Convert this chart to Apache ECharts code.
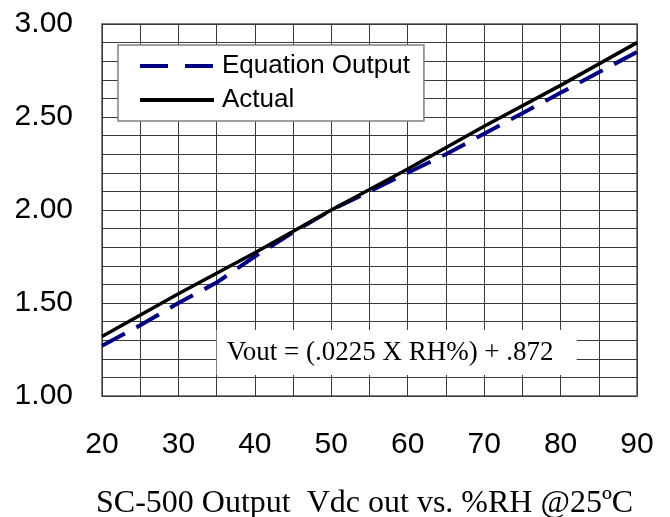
<!DOCTYPE html>
<html>
<head>
<meta charset="utf-8">
<script src="https://cdn.jsdelivr.net/npm/echarts@6/dist/echarts.min.js"></script>
<style>
html,body{margin:0;padding:0;background:#fff;}
#chart{width:670px;height:517px;}
</style>
</head>
<body>
<div id="chart"></div>
<script>
// %RH values
const rhValues = [20, 25, 30, 35, 40, 45, 50, 55, 60, 65, 70, 75, 80, 85, 90];
// Equation Output (dashed navy)
const equationOutput = [1.27, 1.38, 1.50, 1.61, 1.75, 1.88, 2.00, 2.10, 2.20, 2.30, 2.41, 2.52, 2.63, 2.74, 2.85];
// Actual (solid black)
const actualRH = [20, 30, 40, 50, 60, 70, 80, 90];
const actualValues = [1.32, 1.55, 1.77, 2.00, 2.22, 2.45, 2.67, 2.90];
const seriesNames = ['Equation Output', 'Actual'];
const titleText = 'SC-500 Output  Vdc out vs. %RH @25ºC';
const equationText = 'Vout = (.0225 X RH%) + .872';
// annotation box in data units [x1, y1, x2, y2]
const noteBox = [35, 1.355, 82.1, 1.113];

const chart = echarts.init(document.getElementById('chart'));
const gridLine = {show: true, lineStyle: {color: '#3a3a3a', width: 1}};
chart.setOption({
  animation: false,
  backgroundColor: '#ffffff',
  title: {
    text: titleText,
    left: 96,
    top: 488,
    padding: 0,
    textStyle: {fontFamily: 'Liberation Serif', fontSize: 32, fontWeight: 'normal', color: '#000'}
  },
  grid: {left: 102, right: 33, top: 24, bottom: 121, show: true, borderColor: '#808080', borderWidth: 2, backgroundColor: 'transparent'},
  legend: {
    orient: 'vertical',
    left: 118,
    top: 45,
    backgroundColor: '#fff',
    borderColor: '#808080',
    borderWidth: 1.5,
    padding: [8, 14, 8, 20],
    itemGap: 8,
    itemWidth: 74,
    itemHeight: 14,
    itemStyle: {color: 'transparent', borderWidth: 0, opacity: 0},
    data: [
      {name: seriesNames[0], lineStyle: {color: '#000080', width: 4, type: [28, 17], opacity: 1}},
      {name: seriesNames[1], lineStyle: {color: '#000', width: 4, type: 'solid', opacity: 1}}
    ],
    textStyle: {fontFamily: 'Liberation Sans', fontSize: 26, color: '#000', padding: [0, 0, 0, 3]}
  },
  xAxis: {
    type: 'value', min: 20, max: 90, interval: 10,
    axisLine: {show: false}, axisTick: {show: false},
    axisLabel: {margin: 34, fontFamily: 'Liberation Sans', fontSize: 30, color: '#000'},
    splitLine: gridLine,
    minorTick: {show: false, splitNumber: 2},
    minorSplitLine: gridLine
  },
  yAxis: {
    type: 'value', min: 1, max: 3, interval: 0.5,
    axisLine: {show: false}, axisTick: {show: false},
    axisLabel: {margin: 29, fontFamily: 'Liberation Sans', fontSize: 30, color: '#000', formatter: v => v.toFixed(2)},
    splitLine: gridLine,
    minorTick: {show: false, splitNumber: 5},
    minorSplitLine: gridLine
  },
  series: [
    {
      name: seriesNames[0], type: 'line', symbol: 'none', z: 3,
      data: rhValues.map((x, i) => [x, equationOutput[i]]),
      lineStyle: {color: '#000080', width: 4, type: [26, 13]},
      itemStyle: {color: '#000080'},
      markArea: {
        silent: true,
        itemStyle: {color: '#fff', borderWidth: 0},
        label: {show: true, position: 'insideLeft', distance: 10, color: '#000', fontFamily: 'Liberation Serif', fontSize: 27},
        data: [[{coord: [noteBox[0], noteBox[1]], name: equationText}, {coord: [noteBox[2], noteBox[3]]}]]
      }
    },
    {
      name: seriesNames[1], type: 'line', symbol: 'none', z: 4,
      data: actualRH.map((x, i) => [x, actualValues[i]]),
      lineStyle: {color: '#000', width: 3.5},
      itemStyle: {color: '#000'}
    }
  ]
});
</script>
</body>
</html>
